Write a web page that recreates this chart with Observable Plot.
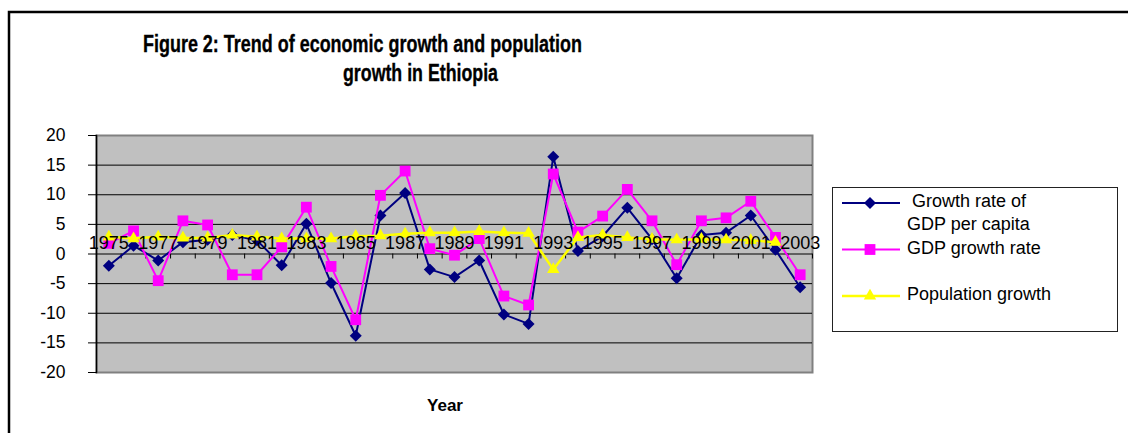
<!DOCTYPE html>
<html><head><meta charset="utf-8">
<script src="https://cdn.jsdelivr.net/npm/d3@7"></script>
<script src="https://cdn.jsdelivr.net/npm/@observablehq/plot@0.6"></script>
<style>
body{margin:0;background:#fff;}
#wrap{position:relative;width:1128px;height:433px;overflow:hidden;font-family:"Liberation Sans",Arial,sans-serif;background:#fff;}
#wrap svg{position:absolute;left:0;top:0;}
</style></head><body><div id="wrap"></div>
<script>
// ---- data ----
const years = [1975,1976,1977,1978,1979,1980,1981,1982,1983,1984,1985,1986,1987,1988,1989,1990,1991,1992,1993,1994,1995,1996,1997,1998,1999,2000,2001,2002,2003];
const gdpPerCapita = [-2.0,1.4,-1.1,2.0,2.4,3.2,2.3,-1.9,5.1,-4.9,-13.8,6.5,10.3,-2.6,-3.9,-1.1,-10.2,-11.8,16.4,0.5,3.0,7.8,2.5,-4.1,3.2,3.6,6.5,0.7,-5.6];
const gdpGrowth = [1.8,3.9,-4.5,5.6,4.9,-3.5,-3.5,1.2,7.9,-2.1,-11.1,9.9,14.0,0.9,-0.2,2.6,-7.1,-8.6,13.5,3.7,6.4,10.9,5.6,-1.8,5.6,6.1,8.9,2.8,-3.5];
const popGrowth = [2.9,2.6,2.9,2.7,2.7,3.2,2.9,2.6,2.6,2.6,3.0,3.1,3.4,3.6,3.6,3.8,3.6,3.5,-2.6,2.8,3.2,2.8,2.5,2.4,2.5,2.4,2.3,2.0,null];
const yTicks = [-20,-15,-10,-5,0,5,10,15,20];
const seriesNames = [" Growth rate of\nGDP per capita", "GDP growth rate", "Population growth"];
const titleLines = ["Figure 2: Trend of economic growth and population", "growth in Ethiopia"];
const xTitle = "Year";

const colors = ["#000080", "#FF00FF", "#FFFF00"];
const symbols = ["diamond2", "square", "triangle"];
const radii = [5.4, 6.1, 4.6];

const rows = years.map((year, i) => ({year, pc: gdpPerCapita[i], gdp: gdpGrowth[i], pop: popGrowth[i]}));
const labelYears = years.filter((y, i) => i % 2 === 0);
const boundaries = years.map(y => y - 0.5).concat([years[years.length - 1] + 0.5]);

const W = 1128, H = 433;
const chart = Plot.plot({
  width: W, height: H,
  marginLeft: 96, marginRight: W - 812, marginTop: 135, marginBottom: H - 372,
  style: {fontFamily: '"Liberation Sans", Arial, sans-serif', background: "transparent", overflow: "visible"},
  x: {type: "linear", domain: [years[0] - 0.5, years[years.length - 1] + 0.5], axis: null},
  y: {domain: [yTicks[0], yTicks[yTicks.length - 1]], axis: null},
  marks: [
    Plot.frame({fill: "#c0c0c0", stroke: "#808080", strokeWidth: 2}),
    Plot.ruleY(yTicks.filter(t => Math.abs(t) < 20), {stroke: "#000", strokeWidth: 1}),
    Plot.frame({anchor: "left", stroke: "#000", strokeWidth: 1.5}),
    Plot.axisY({ticks: yTicks, tickSize: 8, tickPadding: 23, fontSize: 17.5, tickFormat: d => String(d), stroke: "#000", color: "#000"}),
    Plot.ruleX(boundaries, {x: d => d, y1: 0, y2: 0, insetTop: 0, insetBottom: -5, stroke: "#000", strokeWidth: 1}),
    Plot.line(rows, {x: "year", y: "pc", stroke: colors[0], strokeWidth: 2}),
    Plot.dot(rows, {x: "year", y: "pc", symbol: symbols[0], fill: colors[0], r: radii[0]}),
    Plot.line(rows, {x: "year", y: "gdp", stroke: colors[1], strokeWidth: 2}),
    Plot.dot(rows, {x: "year", y: "gdp", symbol: symbols[1], fill: colors[1], r: radii[1]}),
    Plot.line(rows, {x: "year", y: "pop", stroke: colors[2], strokeWidth: 2.5}),
    Plot.dot(rows.filter(d => d.pop != null), {x: "year", y: "pop", symbol: symbols[2], fill: colors[2], r: radii[2]}),
    Plot.text(labelYears, {x: d => d, y: 0, text: d => String(d), dy: -11, fontSize: 18, fill: "#000", lineAnchor: "middle"})
  ]
});
const wrap = document.getElementById("wrap");
wrap.appendChild(chart);

// ---- overlay: border, title, axis title, legend ----
const ov = d3.create("svg").attr("width", W).attr("height", H)
  .style("font-family", '"Liberation Sans", Arial, sans-serif');
ov.append("path").attr("d", `M9,433 V12 H1128`).attr("fill", "none").attr("stroke", "#000").attr("stroke-width", 2.5);
ov.append("text").attr("x", 143).attr("y", 52).attr("font-size", 24).attr("font-weight", "bold")
  .attr("stroke", "#000").attr("stroke-width", 0.35)
  .attr("textLength", 439).attr("lengthAdjust", "spacingAndGlyphs").text(titleLines[0]);
ov.append("text").attr("x", 343).attr("y", 81).attr("font-size", 24).attr("font-weight", "bold")
  .attr("stroke", "#000").attr("stroke-width", 0.35)
  .attr("textLength", 155).attr("lengthAdjust", "spacingAndGlyphs").text(titleLines[1]);
ov.append("text").attr("x", 427).attr("y", 411).attr("font-size", 17).attr("font-weight", "bold")
  .attr("textLength", 36).attr("lengthAdjust", "spacingAndGlyphs").text(xTitle);

const lg = ov.append("g");
lg.append("rect").attr("x", 832.5).attr("y", 187.5).attr("width", 285).attr("height", 144)
  .attr("fill", "#fff").attr("stroke", "#222").attr("stroke-width", 1);
const entryY = [203, 249.5, 296];
const symMap = {diamond2: d3.symbolDiamond2, square: d3.symbolSquare, triangle: d3.symbolTriangle};
seriesNames.forEach((name, i) => {
  lg.append("line").attr("x1", 842).attr("x2", 900).attr("y1", entryY[i]).attr("y2", entryY[i])
    .attr("stroke", colors[i]).attr("stroke-width", i === 2 ? 2.5 : 2);
  lg.append("path").attr("transform", `translate(870,${entryY[i]})`)
    .attr("d", d3.symbol(symMap[symbols[i]], Math.PI * radii[i] * radii[i])()).attr("fill", colors[i]);
  name.split("\n").forEach((t, j) => {
    lg.append("text").attr("x", 907).attr("y", entryY[i] + 4 + j * 22.5)
      .attr("font-size", 18).attr("xml:space", "preserve").style("white-space", "pre").text(t);
  });
});
wrap.appendChild(ov.node());
</script>
</body></html>
